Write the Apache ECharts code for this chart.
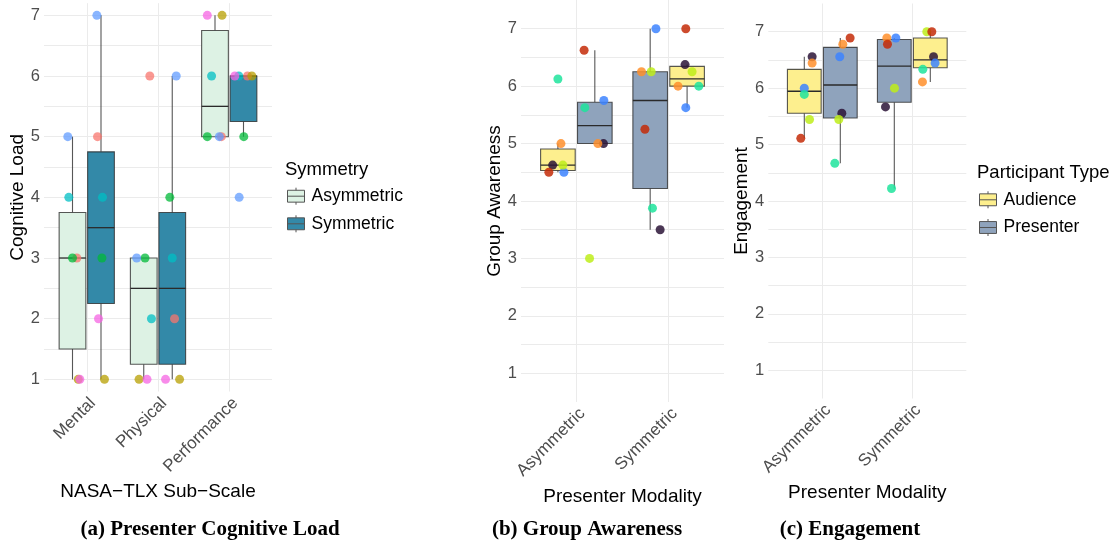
<!DOCTYPE html>
<html><head><meta charset="utf-8">
<script src="https://cdn.jsdelivr.net/npm/echarts@6/dist/echarts.min.js"></script>
<style>html,body{margin:0;padding:0;background:#fff}#c{width:1114px;height:544px}</style>
</head><body><div id="c"></div>
<script>
// ===== Panel (a): Presenter Cognitive Load =====
const subScales = ['Mental', 'Physical', 'Performance'];
const symmetryLevels = ['Asymmetric', 'Symmetric'];
// values per presenter (P1..P6)
const loadMentalAsym = [3, 1, 3, 4, 5, 1];
const loadMentalSym = [5, 1, 3, 4, 7, 2];
const loadPhysicalAsym = [6, 1, 3, 2, 3, 1];
const loadPhysicalSym = [2, 1, 4, 3, 6, 1];
const loadPerformanceAsym = [5, 7, 5, 6, 5, 7];
const loadPerformanceSym = [6, 6, 5, 6, 4, 6];
// horizontal jitter (category units)
const jitMentalAsym = [0.061, 0.08, 0, -0.052, -0.066, 0.103];
const jitMentalSym = [-0.049, 0.049, 0.013, 0.021, -0.058, -0.035];
const jitPhysicalAsym = [0.085, -0.066, 0.018, 0.108, -0.099, 0.046];
const jitPhysicalSym = [0.032, 0.103, -0.034, 0, 0.056, -0.094];
const jitPerformanceAsym = [0.089, 0.099, -0.108, -0.048, 0.061, -0.108];
const jitPerformanceSym = [0.056, 0.117, 0.004, -0.066, -0.061, -0.122];

// ===== Panels (b) and (c) =====
const modalities = ['Asymmetric', 'Symmetric'];
const participantTypes = ['Audience', 'Presenter'];
// Group Awareness, per participant (Q1..Q6)
const awareAsymAudience = [4.625, 4.5, 6.125, 4.625, 5.0, 4.5];
const awareAsymPresenter = [5.0, 5.75, 5.625, 3.0, 5.0, 6.625];
const awareSymAudience = [6.375, 5.625, 6.0, 6.25, 6.0, 7.0];
const awareSymPresenter = [3.5, 7.0, 3.875, 6.25, 6.25, 5.25];
const jitAwareAsymAudience = [-0.057, 0.065, 0, 0.054, 0.033, -0.098];
const jitAwareAsymPresenter = [0.094, 0.098, -0.108, -0.057, 0.033, -0.116];
const jitAwareSymAudience = [-0.022, -0.014, 0.127, 0.054, -0.098, -0.014];
const jitAwareSymPresenter = [0.108, 0.062, 0.025, 0.011, -0.094, -0.057];
// Engagement
const engageAsymAudience = [6.556, 6.0, 5.889, 5.444, 6.444, 5.111];
const engageAsymPresenter = [5.556, 6.556, 4.667, 5.444, 6.778, 6.889];
const engageSymAudience = [6.556, 6.444, 6.333, 7.0, 6.111, 7.0];
const engageSymPresenter = [5.667, 6.889, 4.222, 6.0, 6.889, 6.778];
const jitEngageAsymAudience = [0.087, 0, 0, 0.058, 0.087, -0.039];
const jitEngageAsymPresenter = [0.017, -0.006, -0.061, -0.017, 0.028, 0.109];
const jitEngageSymAudience = [0.036, 0.053, -0.083, -0.039, -0.087, 0.017];
const jitEngageSymPresenter = [-0.098, 0.017, -0.031, 0.002, -0.083, -0.076];

const yTickLabels = [1, 2, 3, 4, 5, 6, 7];

// ===== styles =====
const FONT = 'Liberation Sans';
const presenterColors = ['#F8766D', '#B79F00', '#00BA38', '#00BFC4', '#619CFF', '#F564E3'];
const participantColors = ['#2B1437', '#3D84FF', '#1EE49C', '#BEED1A', '#FF8F2B', '#C42B08'];
const symFill = { Asymmetric: '#DDF2E4', Symmetric: '#3389A8' };
const typeFill = { Audience: '#FDEF8E', Presenter: '#8FA3BC' };
const DODGE = 0.2, BOXW = 0.375;

function q7(s, p) {
  const h = (s.length - 1) * p, lo = Math.floor(h);
  const hi = Math.min(lo + 1, s.length - 1);
  return s[lo] + (h - lo) * (s[hi] - s[lo]);
}
function boxStats(x, vals) {
  const s = vals.slice().sort((a, b) => a - b);
  const q1 = q7(s, 0.25), med = q7(s, 0.5), q3 = q7(s, 0.75), iqr = q3 - q1;
  const lo = Math.min(...s.filter(v => v >= q1 - 1.5 * iqr));
  const hi = Math.max(...s.filter(v => v <= q3 + 1.5 * iqr));
  return [x, lo, q1, med, q3, hi];
}
function renderBox(params, api) {
  const x = api.value(0);
  const c = v => api.coord([x, v]);
  const w = api.size([BOXW, 0])[0];
  const cx = c(api.value(3))[0];
  const yLo = c(api.value(1))[1], yQ1 = c(api.value(2))[1], yMed = c(api.value(3))[1];
  const yQ3 = c(api.value(4))[1], yHi = c(api.value(5))[1];
  const stroke = 'rgba(45,45,45,0.8)';
  return { type: 'group', children: [
    { type: 'line', shape: { x1: cx, y1: yHi, x2: cx, y2: yQ3 }, style: { stroke: stroke, lineWidth: 1.1 } },
    { type: 'line', shape: { x1: cx, y1: yQ1, x2: cx, y2: yLo }, style: { stroke: stroke, lineWidth: 1.1 } },
    { type: 'rect', shape: { x: cx - w / 2, y: yQ3, width: w, height: yQ1 - yQ3 },
      style: { fill: api.visual('color'), stroke: stroke, lineWidth: 1.1 } },
    { type: 'line', shape: { x1: cx - w / 2, y1: yMed, x2: cx + w / 2, y2: yMed }, style: { stroke: '#2a2a2a', lineWidth: 1.3 } }
  ]};
}
function boxSeries(name, gridIndex, data) {
  return { type: 'custom', name: name, xAxisIndex: gridIndex, yAxisIndex: gridIndex, z: 2,
    itemStyle: { color: (symFill[name] || typeFill[name]), borderColor: '#444', borderWidth: 1 },
    encode: { x: 0, y: [1, 2, 3, 4, 5] }, renderItem: renderBox, data: data };
}
function pointItems(xc, vals, jit, colors, opacity) {
  return vals.map((v, i) => ({ value: [xc + jit[i], v], itemStyle: { color: colors[i], opacity: opacity } }));
}
function scatterSeries(name, gridIndex, items) {
  return { type: 'scatter', name: name, xAxisIndex: gridIndex, yAxisIndex: gridIndex, z: 3,
    symbolSize: 9, data: items, emphasis: { disabled: true } };
}

// ---- build panel (a)
const loadAsym = [loadMentalAsym, loadPhysicalAsym, loadPerformanceAsym];
const loadSym = [loadMentalSym, loadPhysicalSym, loadPerformanceSym];
const jitAsym = [jitMentalAsym, jitPhysicalAsym, jitPerformanceAsym];
const jitSym = [jitMentalSym, jitPhysicalSym, jitPerformanceSym];
let ptsA = [];
const boxAAsym = [], boxASym = [];
subScales.forEach((s, i) => {
  const xa = i + 1 - DODGE, xs = i + 1 + DODGE;
  boxAAsym.push(boxStats(xa, loadAsym[i]));
  boxASym.push(boxStats(xs, loadSym[i]));
  ptsA = ptsA.concat(pointItems(xa, loadAsym[i], jitAsym[i], presenterColors, 0.75));
  ptsA = ptsA.concat(pointItems(xs, loadSym[i], jitSym[i], presenterColors, 0.75));
});

// ---- panels (b), (c): dodge side per modality (as drawn in the figure)
const sideOf = { Asymmetric: { Audience: -DODGE, Presenter: DODGE }, Symmetric: { Presenter: -DODGE, Audience: DODGE } };
function buildPanel(sets, gridIndex) {
  const boxes = { Audience: [], Presenter: [] };
  let pts = [];
  sets.forEach(st => {
    const xc = modalities.indexOf(st.mod) + 1 + sideOf[st.mod][st.type];
    boxes[st.type].push(boxStats(xc, st.vals));
    pts = pts.concat(pointItems(xc, st.vals, st.jit, participantColors, 0.85));
  });
  return [boxSeries('Audience', gridIndex, boxes.Audience), boxSeries('Presenter', gridIndex, boxes.Presenter),
          scatterSeries('pts' + gridIndex, gridIndex, pts)];
}
const seriesB = buildPanel([
  { mod: 'Asymmetric', type: 'Audience', vals: awareAsymAudience, jit: jitAwareAsymAudience },
  { mod: 'Asymmetric', type: 'Presenter', vals: awareAsymPresenter, jit: jitAwareAsymPresenter },
  { mod: 'Symmetric', type: 'Presenter', vals: awareSymPresenter, jit: jitAwareSymPresenter },
  { mod: 'Symmetric', type: 'Audience', vals: awareSymAudience, jit: jitAwareSymAudience }
], 1);
const seriesC = buildPanel([
  { mod: 'Asymmetric', type: 'Audience', vals: engageAsymAudience, jit: jitEngageAsymAudience },
  { mod: 'Asymmetric', type: 'Presenter', vals: engageAsymPresenter, jit: jitEngageAsymPresenter },
  { mod: 'Symmetric', type: 'Presenter', vals: engageSymPresenter, jit: jitEngageSymPresenter },
  { mod: 'Symmetric', type: 'Audience', vals: engageSymAudience, jit: jitEngageSymAudience }
], 2);

function xAxis(gridIndex, cats, name, nameGap) {
  const vals = cats.map((c, i) => i + 1);
  return { type: 'value', gridIndex: gridIndex, min: 0.4, max: cats.length + 0.6,
    name: name, nameLocation: 'middle', nameGap: nameGap,
    nameTextStyle: { fontSize: 19, color: '#000', fontFamily: FONT },
    axisLine: { show: false }, axisTick: { show: false, customValues: vals },
    axisLabel: { customValues: vals, formatter: v => cats[Math.round(v) - 1], rotate: 45, margin: 3,
      verticalAlign: 'top', color: '#4D4D4D', fontSize: 17, fontFamily: FONT },
    splitLine: { show: true, lineStyle: { color: '#EBEBEB', width: 1 } } };
}
function yAxis(gridIndex, min, max, name, nameGap) {
  const ticks = [];
  for (let v = 1; v <= 7; v += 0.5) ticks.push(v);
  return { type: 'value', gridIndex: gridIndex, min: min, max: max,
    name: name, nameLocation: 'middle', nameGap: nameGap,
    nameTextStyle: { fontSize: 19, color: '#000', fontFamily: FONT },
    axisLine: { show: false }, axisTick: { show: false, customValues: ticks },
    axisLabel: { customValues: yTickLabels, color: '#4D4D4D', fontSize: 16.5, margin: 4, fontFamily: FONT },
    splitLine: { show: true, lineStyle: { color: '#EBEBEB', width: 1 } } };
}

const legendIcon = 'path://M0,3L20,3L20,17L0,17Z M0,10L20,10 M10,0L10,3 M10,17L10,20';
const captionFont = 'bold 21px "Liberation Serif"';
const chart = echarts.init(document.getElementById('c'), null, { renderer: 'canvas' });
chart.setOption({
  animation: false,
  backgroundColor: '#fff',
  textStyle: { fontFamily: FONT },
  grid: [
    { left: 44, top: 3.2, width: 228, height: 388.3, containLabel: false, outerBoundsMode: 'none' },
    { left: 521, top: 0, width: 203, height: 402, containLabel: false, outerBoundsMode: 'none' },
    { left: 768.3, top: 3.5, width: 198, height: 395, containLabel: false, outerBoundsMode: 'none' }
  ],
  xAxis: [
    xAxis(0, subScales, 'NASA\u2212TLX Sub\u2212Scale', 86.5),
    xAxis(1, modalities, 'Presenter Modality', 79.5),
    xAxis(2, modalities, 'Presenter Modality', 81)
  ],
  yAxis: [
    yAxis(0, 0.8, 7.2, 'Cognitive Load', 15),
    yAxis(1, 0.5, 7.5, 'Group Awareness', 15),
    yAxis(2, 0.5, 7.5, 'Engagement', 14.5)
  ],
  legend: [
    { data: symmetryLevels, orient: 'vertical', left: 287, top: 187.2, padding: 0, itemGap: 9.6,
      itemWidth: 21, itemHeight: 17, icon: legendIcon, selectedMode: false,
      itemStyle: { borderColor: '#555', borderWidth: 1 },
      textStyle: { fontSize: 17.5, color: '#000', fontFamily: FONT } },
    { data: participantTypes, orient: 'vertical', left: 979, top: 190.8, padding: 0, itemGap: 9.7,
      itemWidth: 21, itemHeight: 17, icon: legendIcon, selectedMode: false,
      itemStyle: { borderColor: '#555', borderWidth: 1 },
      textStyle: { fontSize: 17.5, color: '#000', fontFamily: FONT } }
  ],
  graphic: [
    { type: 'text', x: 285, y: 170, style: { text: 'Symmetry', font: '18.5px "Liberation Sans"', fill: '#000', align: 'left', verticalAlign: 'middle' } },
    { type: 'text', x: 977, y: 172.7, style: { text: 'Participant Type', font: '18.5px "Liberation Sans"', fill: '#000', align: 'left', verticalAlign: 'middle' } },
    { type: 'text', x: 210, y: 529.5, style: { text: '(a) Presenter Cognitive Load', font: captionFont, fill: '#000', align: 'center', verticalAlign: 'middle' } },
    { type: 'text', x: 587, y: 529.5, style: { text: '(b) Group Awareness', font: captionFont, fill: '#000', align: 'center', verticalAlign: 'middle' } },
    { type: 'text', x: 850, y: 529.5, style: { text: '(c) Engagement', font: captionFont, fill: '#000', align: 'center', verticalAlign: 'middle' } }
  ],
  series: [
    boxSeries('Asymmetric', 0, boxAAsym),
    boxSeries('Symmetric', 0, boxASym),
    scatterSeries('pts0', 0, ptsA)
  ].concat(seriesB, seriesC)
});
</script></body></html>
